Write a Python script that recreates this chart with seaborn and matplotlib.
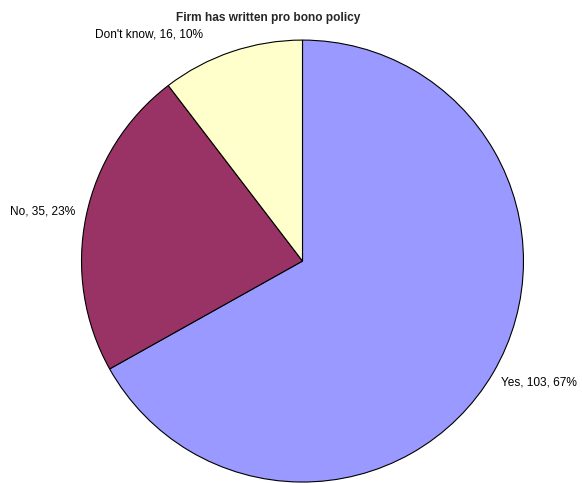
import matplotlib
matplotlib.use('Agg')
import matplotlib.pyplot as plt
import seaborn as sns

categories = ["Yes", "No", "Don't know"]
counts = [103, 35, 16]
colors = ["#9999FF", "#993366", "#FFFFCC"]
title = "Firm has written pro bono policy"

sns.set_theme(style="white")
plt.rcParams['font.family'] = ['Liberation Sans', 'DejaVu Sans']

total = sum(counts)
labels = [f"{c}, {n}, {round(100 * n / total)}%" for c, n in zip(categories, counts)]

fig = plt.figure(figsize=(5.82, 4.83), dpi=100)
ax = fig.add_axes([0.14, 0.002, 0.7595, 0.915])
wedges, texts = ax.pie(counts, labels=labels, colors=colors, startangle=90,
                       counterclock=False, labeldistance=1.05,
                       wedgeprops=dict(edgecolor='black', linewidth=0.8),
                       textprops=dict(fontsize=8.6, color='black'))
ax.set_xlim(-1, 1)
ax.set_ylim(-1, 1)
ax.set_aspect('equal')
ax.axis('off')

# small nudges so labels sit where the original has them
x, y = texts[0].get_position()
texts[0].set_position((x - 0.008, y - 0.018))
x, y = texts[1].get_position()
texts[1].set_position((x, y + 0.01))
x, y = texts[2].get_position()
texts[2].set_position((x - 0.113, y + 0.005))
texts[2].set_va('bottom')

fig.text(0.461, 0.963, title, ha='center', va='center', fontsize=8.6, fontweight='bold')

fig.savefig("out.png", dpi=100)
